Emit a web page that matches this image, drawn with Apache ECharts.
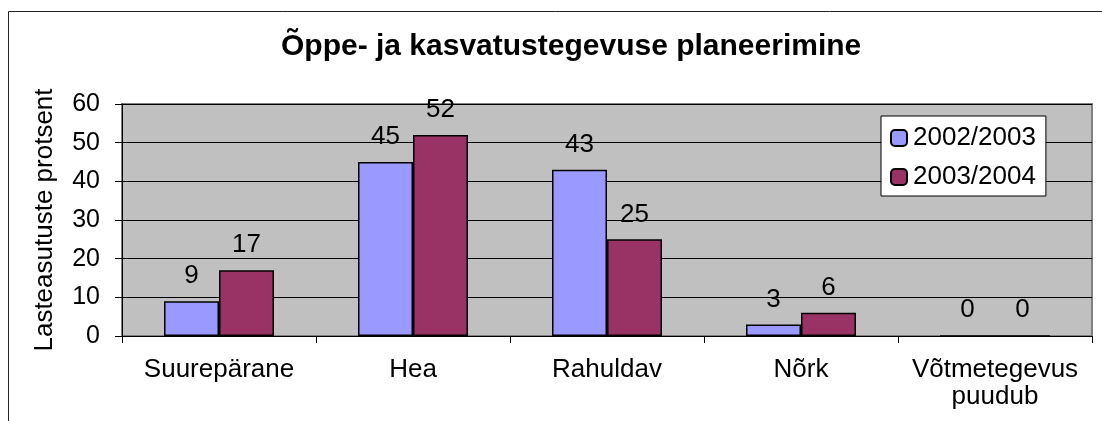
<!DOCTYPE html>
<html>
<head>
<meta charset="utf-8">
<script src="https://cdn.jsdelivr.net/npm/echarts@6/dist/echarts.min.js"></script>
<style>
  html, body { margin: 0; padding: 0; background: #fff; }
  #chart { width: 1102px; height: 421px; }
</style>
</head>
<body>
<div id="chart"></div>
<script>
const categories = ['Suurepärane', 'Hea', 'Rahuldav', 'Nõrk', 'Võtmetegevus\npuudub'];
const seriesNames = ['2002/2003', '2003/2004'];
const values2002 = [9, 45, 43, 3, 0];
const values2004 = [17, 52, 25, 6, 0];
const colors = ['#9999FF', '#993366'];
const font = 'Arial, "Liberation Sans", sans-serif';

const myChart = echarts.init(document.getElementById('chart'));

const barLabel = {
  show: true,
  position: 'top',
  distance: 12,
  color: '#000',
  fontFamily: font,
  fontSize: 26
};

myChart.setOption({
  animation: false,
  color: colors,
  textStyle: { fontFamily: font, color: '#000' },
  graphic: [
    {
      type: 'rect',
      shape: { x: 8.5, y: 11.5, width: 1200, height: 500 },
      style: { fill: 'none', stroke: '#222', lineWidth: 1 },
      z: 0
    }
  ],
  title: {
    text: 'Õppe- ja kasvatustegevuse planeerimine',
    left: 276,
    top: 27,
    textStyle: { fontFamily: font, fontWeight: 'bold', fontSize: 30, color: '#000' }
  },
  legend: {
    orient: 'vertical',
    left: 881,
    top: 116,
    padding: [9, 10, 6, 9],
    itemGap: 13,
    itemWidth: 16,
    itemHeight: 16,
    backgroundColor: '#fff',
    borderColor: '#000',
    borderWidth: 1,
    data: seriesNames,
    textStyle: { fontFamily: font, fontSize: 26, color: '#000', padding: [0, 0, 0, 1] }
  },
  grid: {
    left: 122,
    right: 10,
    top: 104,
    bottom: 85,
    show: true,
    backgroundColor: '#C0C0C0',
    borderColor: '#808080',
    borderWidth: 2
  },
  xAxis: {
    type: 'category',
    data: categories,
    axisLine: { lineStyle: { color: '#000', width: 1 } },
    axisTick: { show: true, length: 7, lineStyle: { color: '#000' } },
    axisLabel: { interval: 0, fontFamily: font, fontSize: 26, color: '#000', margin: 20, lineHeight: 27 }
  },
  yAxis: {
    type: 'value',
    min: 0,
    max: 60,
    interval: 10,
    name: 'Lasteasutuste protsent',
    nameLocation: 'middle',
    nameGap: 64,
    nameTextStyle: { fontFamily: font, fontSize: 26, color: '#000' },
    axisLine: { show: true, lineStyle: { color: '#000', width: 1 } },
    axisTick: { show: true, length: 7, lineStyle: { color: '#000' } },
    axisLabel: { fontFamily: font, fontSize: 25, color: '#000', margin: 22 },
    splitLine: { show: true, lineStyle: { color: '#000', width: 1 } }
  },
  series: [
    {
      name: seriesNames[0],
      type: 'bar',
      data: values2002,
      barWidth: 55,
      barGap: '0%',
      itemStyle: { color: colors[0], borderColor: '#000', borderWidth: 1.5 },
      label: barLabel
    },
    {
      name: seriesNames[1],
      type: 'bar',
      data: values2004,
      barWidth: 55,
      itemStyle: { color: colors[1], borderColor: '#000', borderWidth: 1.5 },
      label: barLabel
    }
  ]
});
</script>
</body>
</html>
